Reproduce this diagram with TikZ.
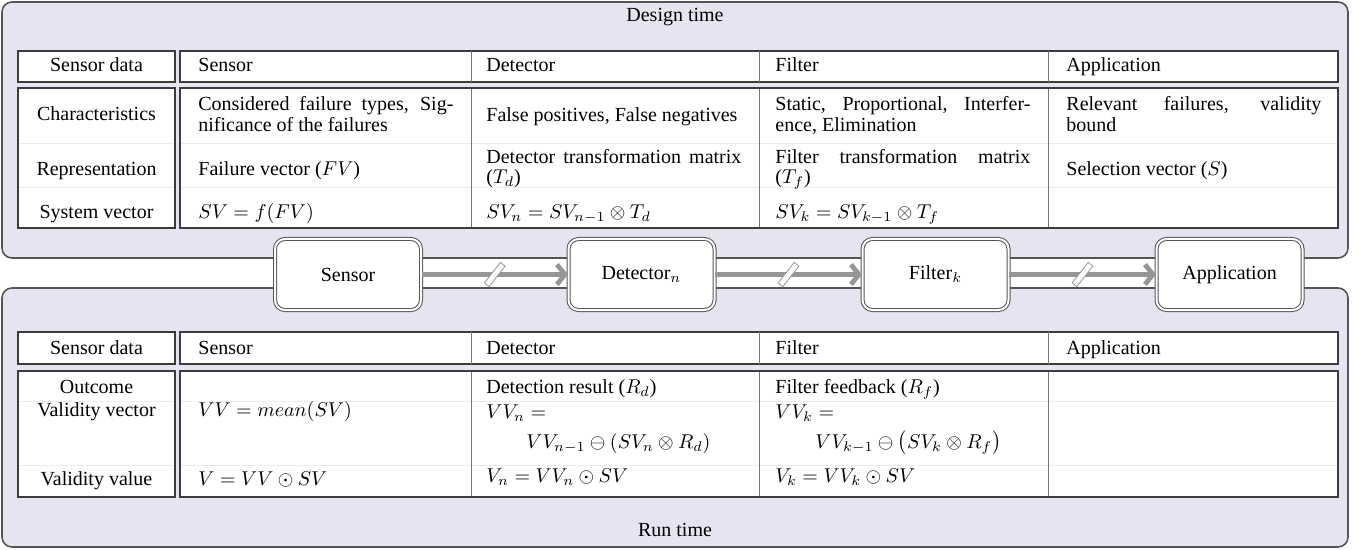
\documentclass[tikz,border=0pt]{standalone}
\usepackage{fontspec}
\setmainfont{Liberation Serif}
\usetikzlibrary{arrows.meta}

\definecolor{panelbg}{RGB}{229,229,242}
\definecolor{panelline}{RGB}{85,85,85}
\definecolor{tabline}{RGB}{60,60,60}
\definecolor{colline}{RGB}{120,120,120}
\definecolor{rowline}{RGB}{236,236,236}
\definecolor{flowgray}{RGB}{150,150,150}

% width of the text inside one stage column
\newlength{\colw}\setlength{\colw}{127.5pt}
\newcommand{\jline}[1]{\makebox[\colw][s]{#1}}

\begin{document}
\begin{tikzpicture}[x=0.5pt,y=-0.5pt,
  font=\fontsize{10}{12}\selectfont,
  panel/.style={draw=panelline, fill=panelbg, line width=0.8pt, rounded corners=5pt},
  tabframe/.style={draw=tabline, fill=white, line width=0.65pt},
  colsep/.style={draw=colline, line width=0.45pt},
  rowsep/.style={draw=rowline, line width=0.4pt},
  cell/.style={anchor=base west, inner sep=0pt},
  lab/.style={anchor=base, inner sep=0pt},
  stage/.style={draw=panelline, double=white, double distance=1pt, line width=0.5pt,
    rounded corners=5pt, fill=white, minimum width=73pt, minimum height=35.5pt, inner sep=0pt},
  flow/.style={draw=flowgray, line width=2.4pt, -{Straight Barb[length=4pt,width=10pt]}},
  brk/.style={draw=flowgray, fill=white, line width=0.4pt, minimum width=3pt,
    minimum height=13pt, inner sep=0pt, rotate=-38}]

\useasboundingbox (0,0) rectangle (1368,550);

% ---------- the two phase panels ----------
\draw[panel] (2,2) rectangle (1348,258);
\draw[panel] (2,288) rectangle (1348,547);
\node[lab] (design) at (675,22) {Design time};
\node[lab] (run) at (675,536) {Run time};

% ---------- design-time table ----------
\draw[tabframe] (18,51) rectangle (175,82);
\draw[tabframe] (180,51) rectangle (1338,82);
\draw[tabframe] (18,88) rectangle (175,228);
\draw[tabframe] (180,88) rectangle (1338,228);
\foreach \y in {143,187} {
  \draw[rowsep] (18.5,\y) -- (174.5,\y);
  \draw[rowsep] (180.5,\y) -- (1337.5,\y);
}
\foreach \x in {471,759,1048} {
  \draw[colsep] (\x,51) -- (\x,82);
  \draw[colsep] (\x,88) -- (\x,228);
}
\draw[tabframe, fill=none] (18,88) rectangle (175,228);
\draw[tabframe, fill=none] (180,88) rectangle (1338,228);

\node[lab] (dhd0) at (96.5,72) {Sensor data};
\node[cell] (dhd1) at (198,72) {Sensor};
\node[cell] (dhd2) at (486,72) {Detector};
\node[cell] (dhd3) at (775,72) {Filter};
\node[cell] (dhd4) at (1066,72) {Application};

\node[lab] (chr) at (96.5,121) {Characteristics};
\node[cell] (s1a) at (198,111) {\jline{Considered failure types, Sig-}};
\node[cell] (s1b) at (198,132) {nificance of the failures};
\node[cell] (d1) at (486,122) {False positives, False negatives};
\node[cell] (f1a) at (775,111) {\jline{Static, Proportional, Interfer-}};
\node[cell] (f1b) at (775,132) {ence, Elimination};
\node[cell] (a1a) at (1066,111) {\jline{Relevant failures, validity}};
\node[cell] (a1b) at (1066,132) {bound};

\node[lab] (rep) at (96.5,176) {Representation};
\node[cell] (s2) at (198,176) {Failure vector ($FV$)};
\node[cell] (d2a) at (486,164) {\jline{Detector transformation matrix}};
\node[cell] (d2b) at (486,184) {($T_d$)};
\node[cell] (f2a) at (775,164) {\jline{Filter transformation matrix}};
\node[cell] (f2b) at (775,184) {($T_f$)};
\node[cell] (a2) at (1066,176) {Selection vector ($S$)};

\node[lab] (sys) at (96.5,219) {System vector};
\node[cell] (s3) at (198,219) {$SV = f(FV)$};
\node[cell] (d3) at (486,219) {$SV_n = SV_{n-1} \otimes T_d$};
\node[cell] (f3) at (775,219) {$SV_k = SV_{k-1} \otimes T_f$};

% ---------- run-time table ----------
\draw[tabframe] (18,332) rectangle (175,364);
\draw[tabframe] (180,332) rectangle (1338,364);
\draw[tabframe] (18,371) rectangle (175,497);
\draw[tabframe] (180,371) rectangle (1338,497);
\foreach \y in {401,465} {
  \draw[rowsep] (18.5,\y) -- (174.5,\y);
  \draw[rowsep] (180.5,\y) -- (1337.5,\y);
}
\foreach \x in {471,759,1048} {
  \draw[colsep] (\x,332) -- (\x,364);
  \draw[colsep] (\x,371) -- (\x,497);
}
\draw[tabframe, fill=none] (18,371) rectangle (175,497);
\draw[tabframe, fill=none] (180,371) rectangle (1338,497);

\node[lab] (rhd0) at (96.5,354) {Sensor data};
\node[cell] (rhd1) at (198,354) {Sensor};
\node[cell] (rhd2) at (486,354) {Detector};
\node[cell] (rhd3) at (775,354) {Filter};
\node[cell] (rhd4) at (1066,354) {Application};

\node[lab] (outc) at (96.5,393) {Outcome};
\node[cell] (d4) at (486,393) {Detection result ($R_d$)};
\node[cell] (f4) at (775,393) {Filter feedback ($R_f$)};

\node[lab] (vvec) at (96.5,416) {Validity vector};
\node[cell] (s5) at (198,416) {$VV = mean(SV)$};
\node[cell] (d5a) at (486,418) {$VV_n =$};
\node[cell] (d5b) at (526,448) {$VV_{n-1} \ominus (SV_n \otimes R_d)$};
\node[cell] (f5a) at (775,418) {$VV_k =$};
\node[cell] (f5b) at (815,448) {$VV_{k-1} \ominus \big(SV_k \otimes R_f\big)$};

\node[lab] (vval) at (96.5,485) {Validity value};
\node[cell] (s6) at (198,485) {$V = VV \odot SV$};
\node[cell] (d6) at (486,482) {$V_n = VV_n \odot SV$};
\node[cell] (f6) at (775,482) {$V_k = VV_k \odot SV$};

% ---------- processing chain ----------
\node[stage] (sensor) at (348,274.5) {Sensor};
\node[stage] (detector) at (641.5,274.5) {Detector$_n$};
\node[stage] (filter) at (935.5,274.5) {Filter$_k$};
\node[stage] (app) at (1229.5,274.5) {Application};

\draw[flow] (sensor) -- (detector) node[brk, midway] (brk1) {};
\draw[flow] (detector) -- (filter) node[brk, midway] (brk2) {};
\draw[flow] (filter) -- (app) node[brk, midway] (brk3) {};
\end{tikzpicture}
\end{document}
